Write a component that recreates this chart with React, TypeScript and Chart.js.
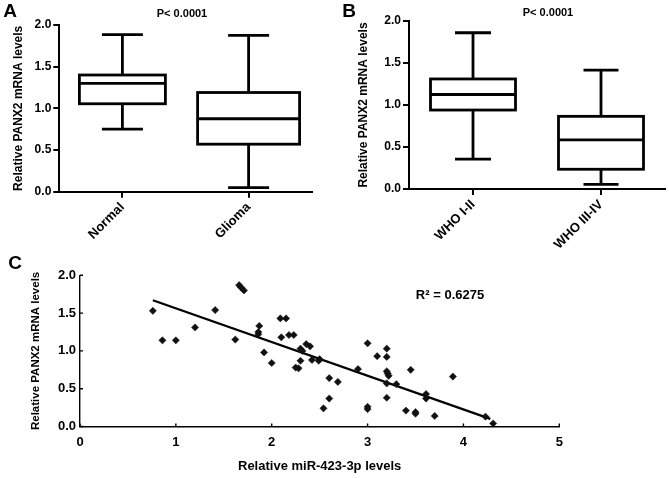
import React, { useEffect, useRef } from 'react';
import { Chart, registerables } from 'chart.js';

Chart.register(...registerables);

const FONT = '"Liberation Sans", Arial, Helvetica, sans-serif';

// ---------- Panel A data ----------
const A_CATEGORIES = ['Normal', 'Glioma'];
const A_WHISKER_LOW = [0.75, 0.05];
const A_Q1 = [1.055, 0.57];
const A_MEDIAN = [1.3, 0.875];
const A_Q3 = [1.4, 1.19];
const A_WHISKER_HIGH = [1.885, 1.875];

// ---------- Panel B data ----------
const B_CATEGORIES = ['WHO I-II', 'WHO III-IV'];
const B_WHISKER_LOW = [0.355, 0.055];
const B_Q1 = [0.94, 0.235];
const B_MEDIAN = [1.125, 0.585];
const B_Q3 = [1.31, 0.865];
const B_WHISKER_HIGH = [1.86, 1.415];

const P_LABEL = 'P< 0.0001';
const Y_TITLE = 'Relative PANX2 mRNA levels';

// ---------- Panel C data ----------
const C_MIR = [
  0.76, 0.86, 1.0, 1.2, 1.41, 1.62, 1.66, 1.68, 1.71, 1.87, 1.86, 1.86, 1.92, 2.0,
  2.09, 2.15, 2.1, 2.18, 2.23, 2.3, 2.32, 2.36, 2.4, 2.3, 2.25, 2.28, 2.42, 2.49,
  2.5, 2.6, 2.69, 2.6, 2.54, 2.9, 3.0, 3.1, 3.0, 3.0, 3.2, 3.2, 3.2, 3.21, 3.22,
  3.2, 3.3, 3.2, 3.45, 3.4, 3.5, 3.5, 3.61, 3.61, 3.7, 3.89, 4.23, 4.31,
];
const C_PANX2 = [
  1.53, 1.14, 1.14, 1.31, 1.54, 1.15, 1.87, 1.84, 1.8, 1.33, 1.25, 1.22, 0.98, 0.84,
  1.43, 1.43, 1.18, 1.21, 1.21, 1.03, 1.0, 1.09, 1.06, 0.87, 0.78, 0.77, 0.88, 0.87,
  0.89, 0.64, 0.59, 0.37, 0.24, 0.76, 1.1, 0.93, 0.26, 0.23, 1.03, 0.92, 0.73, 0.7, 0.67,
  0.57, 0.56, 0.38, 0.75, 0.21, 0.19, 0.17, 0.43, 0.37, 0.14, 0.66, 0.13, 0.04,
];
const FIT_X = [0.76, 4.28];
const FIT_Y = [1.67, 0.1];
const R2_LABEL = 'R² = 0.6275';
const C_X_TITLE = 'Relative miR-423-3p levels';

// ---------- Panel styling ----------
type Txt = { text: string; x: number; y: number; size: number; align?: CanvasTextAlign };

function textPlugin(texts: Txt[]) {
  return {
    id: 'extraTexts',
    afterDraw(chart: any) {
      const ctx = chart.ctx;
      ctx.save();
      ctx.fillStyle = '#000';
      ctx.textBaseline = 'middle';
      for (const t of texts) {
        ctx.font = `bold ${t.size}px ${FONT}`;
        ctx.textAlign = t.align || 'center';
        ctx.fillText(t.text, t.x, t.y);
      }
      ctx.restore();
    },
  };
}

function boxPlugin(
  lo: number[], q1: number[], med: number[], q3: number[], hi: number[],
  boxW: number[], capW: number[], lw: number,
) {
  return {
    id: 'boxPlot',
    afterDatasetsDraw(chart: any) {
      const { ctx } = chart;
      const x = chart.scales.x;
      const y = chart.scales.y;
      ctx.save();
      ctx.strokeStyle = '#000';
      ctx.lineWidth = lw;
      ctx.lineCap = 'butt';
      for (let i = 0; i < lo.length; i++) {
        const cx = x.getPixelForValue(i);
        const yLo = y.getPixelForValue(lo[i]);
        const yHi = y.getPixelForValue(hi[i]);
        const yQ1 = y.getPixelForValue(q1[i]);
        const yQ3 = y.getPixelForValue(q3[i]);
        const yMed = y.getPixelForValue(med[i]);
        const bw = boxW[i] / 2;
        const cw = capW[i] / 2;
        ctx.beginPath();
        ctx.moveTo(cx, yHi); ctx.lineTo(cx, yQ3);
        ctx.moveTo(cx, yQ1); ctx.lineTo(cx, yLo);
        ctx.moveTo(cx - cw, yHi); ctx.lineTo(cx + cw, yHi);
        ctx.moveTo(cx - cw, yLo); ctx.lineTo(cx + cw, yLo);
        ctx.stroke();
        ctx.fillStyle = '#fff';
        ctx.fillRect(cx - bw, yQ3, bw * 2, yQ1 - yQ3);
        ctx.strokeRect(cx - bw, yQ3, bw * 2, yQ1 - yQ3);
        ctx.beginPath();
        ctx.moveTo(cx - bw, yMed); ctx.lineTo(cx + bw, yMed);
        ctx.stroke();
      }
      ctx.restore();
    },
  };
}

function innerTicksPlugin(len: number, lw: number) {
  return {
    id: 'innerTicks',
    afterDatasetsDraw(chart: any) {
      const { ctx, chartArea } = chart;
      const x = chart.scales.x;
      const y = chart.scales.y;
      ctx.save();
      ctx.strokeStyle = '#000';
      ctx.lineWidth = lw;
      ctx.beginPath();
      for (const t of x.ticks) {
        const px = x.getPixelForValue(t.value);
        ctx.moveTo(px, chartArea.bottom);
        ctx.lineTo(px, chartArea.bottom - len);
      }
      for (const t of y.ticks) {
        const py = y.getPixelForValue(t.value);
        ctx.moveTo(chartArea.left, py);
        ctx.lineTo(chartArea.left + len, py);
      }
      ctx.stroke();
      ctx.restore();
    },
  };
}

function boxConfig(
  categories: string[], lo: number[], q1: number[], med: number[], q3: number[], hi: number[],
  area: { left: number; top: number; right: number; bottom: number }, canvasW: number, canvasH: number,
  boxW: number[], capW: number[], titlePad: number, texts: Txt[],
) {
  return {
    type: 'bar',
    data: {
      labels: categories,
      datasets: [
        {
          data: categories.map((_, i) => [q1[i], q3[i]]),
          backgroundColor: 'rgba(0,0,0,0)',
          borderWidth: 0,
        },
      ],
    },
    options: {
      responsive: false,
      animation: false,
      events: [],
      layout: { padding: { top: area.top, right: canvasW - area.right, left: 0, bottom: 0 } },
      plugins: { legend: { display: false }, tooltip: { enabled: false }, title: { display: false } },
      scales: {
        x: {
          type: 'category',
          offset: true,
          afterFit: (s: any) => { s.height = canvasH - area.bottom; },
          grid: { display: true, drawOnChartArea: false, drawTicks: true, tickLength: 6, offset: false, color: '#000', lineWidth: 2 },
          border: { display: true, color: '#000', width: 2 },
          ticks: { color: '#000', font: { family: FONT, size: 13, weight: 'bold' }, minRotation: 45, maxRotation: 45, padding: 2, autoSkip: false },
        },
        y: {
          min: 0,
          max: 2,
          afterFit: (s: any) => { s.width = area.left; },
          grid: { display: true, drawOnChartArea: false, drawTicks: true, tickLength: 6, color: '#000', lineWidth: 2 },
          border: { display: true, color: '#000', width: 2 },
          ticks: { stepSize: 0.5, color: '#000', padding: 2, font: { family: FONT, size: 12, weight: 'bold' }, callback: (v: any) => Number(v).toFixed(1) },
          title: { display: true, text: Y_TITLE, color: '#000', font: { family: FONT, size: 12, weight: 'bold' }, padding: { top: titlePad, bottom: 0 } },
        },
      },
    },
    plugins: [boxPlugin(lo, q1, med, q3, hi, boxW, capW, 2.8), textPlugin(texts)],
  };
}

function scatterConfig(canvasW: number, canvasH: number) {
  const area = { left: 80, top: 25.3, right: 559.3, bottom: 176.5 };
  return {
    type: 'scatter',
    data: {
      datasets: [
        {
          type: 'line',
          data: FIT_X.map((x, i) => ({ x, y: FIT_Y[i] })),
          borderColor: '#000',
          borderWidth: 2.3,
          pointRadius: 0,
          fill: false,
          order: 2,
        },
        {
          type: 'scatter',
          data: C_MIR.map((x, i) => ({ x, y: C_PANX2[i] })),
          pointStyle: 'rectRot',
          pointRadius: 3.6,
          backgroundColor: '#111',
          borderColor: '#111',
          borderWidth: 0.5,
          order: 1,
        },
      ],
    },
    options: {
      responsive: false,
      animation: false,
      events: [],
      layout: { padding: { top: area.top, right: canvasW - area.right, left: 0, bottom: 0 } },
      plugins: { legend: { display: false }, tooltip: { enabled: false }, title: { display: false } },
      scales: {
        x: {
          type: 'linear',
          min: 0,
          max: 5,
          afterFit: (s: any) => { s.height = canvasH - area.bottom; },
          grid: { display: false, drawTicks: false },
          border: { display: true, color: '#000', width: 1.4 },
          ticks: { stepSize: 1, color: '#000', padding: 8, font: { family: FONT, size: 13, weight: 'bold' } },
          title: { display: true, text: C_X_TITLE, color: '#000', font: { family: FONT, size: 13, weight: 'bold' }, padding: { top: 0, bottom: 3.5 } },
        },
        y: {
          min: 0,
          max: 2,
          afterFit: (s: any) => { s.width = area.left; },
          grid: { display: false, drawTicks: false },
          border: { display: true, color: '#000', width: 1.4 },
          ticks: { stepSize: 0.5, color: '#000', padding: 4, font: { family: FONT, size: 13, weight: 'bold' }, callback: (v: any) => Number(v).toFixed(1) },
          title: { display: true, text: Y_TITLE, color: '#000', font: { family: FONT, size: 11.5, weight: 'bold' }, padding: { top: 29, bottom: 0 } },
        },
      },
    },
    plugins: [
      innerTicksPlugin(3, 1.4),
      {
        id: 'r2',
        afterDraw(chart: any) {
          const { ctx } = chart;
          const px = chart.scales.x.getPixelForValue(3.86);
          const py = chart.scales.y.getPixelForValue(1.73);
          ctx.save();
          ctx.fillStyle = '#000';
          ctx.font = `bold 13px ${FONT}`;
          ctx.textAlign = 'center';
          ctx.textBaseline = 'middle';
          ctx.fillText(R2_LABEL, px, py);
          ctx.restore();
        },
      },
      textPlugin([{ text: 'C', x: 15, y: 14, size: 19 }]),
    ],
  };
}

function ChartPanel(props: { left: number; top: number; width: number; height: number; make: () => any }) {
  const ref = useRef<HTMLCanvasElement | null>(null);
  useEffect(() => {
    if (!ref.current) return;
    const chart = new Chart(ref.current, props.make());
    return () => chart.destroy();
  }, []);
  return (
    <canvas
      ref={ref}
      width={props.width}
      height={props.height}
      style={{ position: 'absolute', left: props.left, top: props.top, width: props.width, height: props.height }}
    />
  );
}

export default function App() {
  return (
    <div style={{ position: 'absolute', left: 0, top: 0, width: 669, height: 478, background: '#fff', overflow: 'hidden' }}>
      <ChartPanel
        left={0}
        top={0}
        width={330}
        height={250}
        make={() =>
          boxConfig(
            A_CATEGORIES, A_WHISKER_LOW, A_Q1, A_MEDIAN, A_Q3, A_WHISKER_HIGH,
            { left: 59.3, top: 25, right: 311.7, bottom: 191.7 }, 330, 250,
            [86, 102], [41, 41], 11,
            [
              { text: 'A', x: 10, y: 12, size: 19 },
              { text: P_LABEL, x: 182, y: 13.5, size: 11 },
            ],
          )
        }
      />
      <ChartPanel
        left={330}
        top={0}
        width={339}
        height={250}
        make={() =>
          boxConfig(
            B_CATEGORIES, B_WHISKER_LOW, B_Q1, B_MEDIAN, B_Q3, B_WHISKER_HIGH,
            { left: 79, top: 21, right: 335, bottom: 189 }, 339, 250,
            [85, 85], [36, 35], 26,
            [
              { text: 'B', x: 19, y: 12, size: 19 },
              { text: P_LABEL, x: 218, y: 13, size: 11 },
            ],
          )
        }
      />
      <ChartPanel left={0} top={250} width={669} height={228} make={() => scatterConfig(669, 228)} />
    </div>
  );
}
